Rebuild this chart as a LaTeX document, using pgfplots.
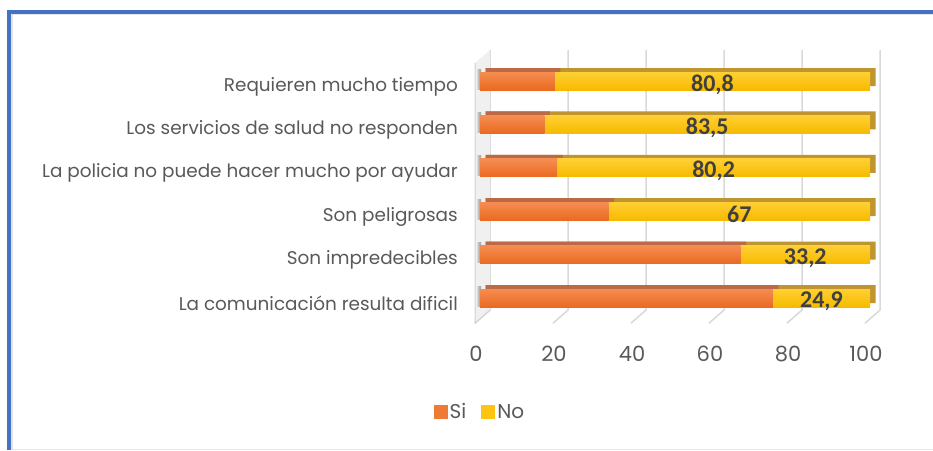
\documentclass[border=0pt]{standalone}
\usepackage{pgfplots}
\pgfplotsset{compat=1.18}
\usepackage{pgfplotstable}
\usepackage{fontspec}
\setmainfont{Poppins}
\newfontfamily\lblfont{Carlito}
\definecolor{frameblue}{HTML}{4472C4}
\definecolor{txtgray}{HTML}{595959}
\definecolor{gridc}{HTML}{D9D9D9}
\definecolor{oL}{HTML}{F58D52}
\definecolor{oD}{HTML}{EA6A20}
\definecolor{oLeg}{HTML}{EF7A34}
\definecolor{oTop}{HTML}{BC6A45}
\definecolor{yL}{HTML}{FFD033}
\definecolor{yD}{HTML}{F7BA00}
\definecolor{yLeg}{HTML}{FFC412}
\definecolor{yTop}{HTML}{BF9530}
\definecolor{lblc}{HTML}{404040}
\pgfplotstableread{
y si no
5 19.2 80.8
4 16.5 83.5
3 19.8 80.2
2 33.0 67.0
1 66.8 33.2
0 75.1 24.9
}\datatab
\begin{document}
\begin{tikzpicture}[x=1pt,y=1pt]
\useasboundingbox (0,0) rectangle (933,450);
\fill[white] (0,0) rectangle (933,450);
% frame
\fill[frameblue] (7,0) rectangle (11,440);
\fill[frameblue] (7,436) rectangle (933,440);
\fill[gridc!70] (11,0) rectangle (13,436);
\fill[gridc!70] (11,434.5) rectangle (933,436);
\fill[gridc!60] (13,0) rectangle (933,1);
\begin{axis}[
  at={(480pt,126.8pt)}, anchor=south west,
  scale only axis, width=390pt, height=273pt,
  xmin=0, xmax=100, ymin=-0.58, ymax=5.71,
  clip=false,
  axis line style={draw=none},
  tick style={draw=none},
  xtick={0,20,...,100},
  ytick={0,...,5},
  yticklabels={La comunicación resulta dificil, Son impredecibles, Son peligrosas, La policia no puede hacer mucho por ayudar, Los servicios de salud no responden, Requieren mucho tiempo},
  yticklabel style={anchor=east, inner sep=0pt, xshift=-22pt, yshift=-5.5pt, font=\fontsize{18.4}{20}\selectfont, text=txtgray},
  xticklabel style={anchor=center, xshift=-4pt, yshift=-31pt, font=\fontsize{21}{24}\selectfont, text=txtgray},
  /pgf/number format/assume math mode=true,
  legend style={at={(axis description cs:0,-0.325)}, anchor=center, draw=none, fill=none,
    legend columns=2,
    nodes={font=\fontsize{20}{22}\selectfont, text=txtgray, inner sep=2pt},
    /tikz/every even column/.append style={column sep=13pt}},
  legend image code/.code={\fill[#1] (0pt,-7pt) rectangle (14pt,7pt);},
]
% back wall grid lines
\pgfplotsinvokeforeach{0,20,...,100}{
  \draw[gridc, line width=1.5pt] ([xshift=10pt]axis cs:#1,5.71) -- ([xshift=10pt]axis cs:#1,-0.276) -- ([xshift=-5pt]axis cs:#1,-0.58);
}
% left side wall
\fill[gray!12] ([xshift=-5pt]axis cs:0,5.415) -- ([xshift=10pt]axis cs:0,5.71) -- ([xshift=10pt]axis cs:0,-0.276) -- ([xshift=-5pt]axis cs:0,-0.58) -- cycle;
\draw[gray!35, line width=1pt] ([xshift=-5pt]axis cs:0,5.415) -- ([xshift=-5pt]axis cs:0,-0.58) -- ([xshift=10pt]axis cs:0,-0.276);
% bar shadows on the side wall
\pgfplotsinvokeforeach{0,...,5}{
  \shade[left color=gray!20, right color=gray!70, middle color=gray!60]
    ([xshift=-3.5pt,yshift=-8pt]axis cs:0,#1) rectangle ([xshift=1pt,yshift=12pt]axis cs:0,#1);
}
% shadow copies (top and side faces)
\addplot[forget plot, xbar, bar shift=0pt, bar width=18pt, draw=none, fill=yTop, xshift=5.5pt, yshift=4pt]
  table[x expr=\thisrow{si}+\thisrow{no}, y=y] {\datatab};
\addplot[forget plot, xbar, bar shift=0pt, bar width=18pt, draw=none, fill=oTop, xshift=5.5pt, yshift=4pt]
  table[x=si, y=y] {\datatab};
% front faces, one bar per plot so each has its own gradient
\pgfplotsinvokeforeach{0,...,5}{
\addplot[forget plot, xbar, bar shift=0pt, bar width=18pt, draw=none, top color=yL, bottom color=yD,
  restrict y to domain=#1:#1]
  table[x expr=\thisrow{si}+\thisrow{no}, y=y] {\datatab};
\addplot[forget plot, xbar, bar shift=0pt, bar width=18pt, draw=none, top color=oL, bottom color=oD,
  restrict y to domain=#1:#1]
  table[x=si, y=y] {\datatab};
}
% data labels
\addplot[forget plot, only marks, mark=none, point meta=explicit,
  nodes near coords={\pgfmathprintnumber[use comma,fixed,precision=1]{\pgfplotspointmeta}},
  nodes near coords align={center},
  every node near coord/.append style={font=\lblfont\bfseries\fontsize{24}{26}\selectfont, text=lblc, yshift=-3.5pt}]
  table[x expr=\thisrow{si}+\thisrow{no}/2, y=y, meta=no] {\datatab};
\addlegendimage{draw=none, fill=oLeg}
\addlegendentry{Si}
\addlegendimage{draw=none, fill=yLeg}
\addlegendentry{No}
\end{axis}
\end{tikzpicture}
\end{document}
